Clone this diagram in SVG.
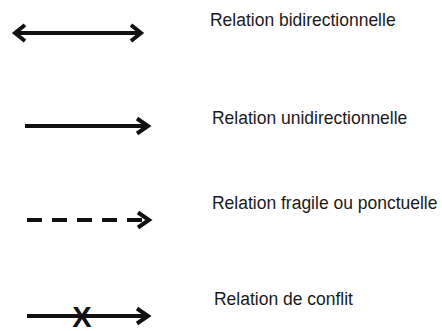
<svg xmlns="http://www.w3.org/2000/svg" width="442" height="331" viewBox="0 0 442 331">
<style>
.ln{stroke:#111;stroke-width:3.8;fill:none;stroke-linecap:butt}
.hd{stroke:#111;stroke-width:4;fill:none;stroke-linejoin:miter;stroke-linecap:butt}
.lbl{font-family:"Liberation Sans",Arial,sans-serif;font-size:17.5px;fill:#1a1a1a}
.x{font-family:"Liberation Sans",Arial,sans-serif;font-size:29px;font-weight:bold;fill:#111}
</style>
<rect width="442" height="331" fill="#fff"/>
<g id="connectors">
<g id="bidirectional">
<line class="ln" x1="15" y1="33" x2="141" y2="33"/>
<polyline class="hd" points="25,25 15,33 25,41"/>
<polyline class="hd" points="131,25 141,33 131,41"/>
</g>
<g id="unidirectional">
<line class="ln" x1="25" y1="126" x2="148" y2="126"/>
<polyline class="hd" points="137,118.5 148,126 137,133.5"/>
</g>
<g id="fragile">
<line class="ln" x1="27" y1="220" x2="148" y2="220" stroke-dasharray="15,10"/>
<polyline class="hd" points="138,212.5 149,220 138,227.5"/>
</g>
<g id="conflict">
<line class="ln" x1="27" y1="316" x2="148" y2="316"/>
<polyline class="hd" points="137,308.5 148,316 137,323.5"/>
<text class="x" x="82" y="326.5" text-anchor="middle">X</text>
</g>
</g>
<g id="label-bidirectionnelle" transform="translate(210,25.5) scale(1,1.1)"><text class="lbl" x="0" y="0">Relation bidirectionnelle</text></g>
<g id="label-unidirectionnelle" transform="translate(212,124) scale(1,1.1)"><text class="lbl" x="0" y="0">Relation unidirectionnelle</text></g>
<g id="label-fragile" transform="translate(212,208.5) scale(1,1.1)"><text class="lbl" x="0" y="0">Relation fragile ou ponctuelle</text></g>
<g id="label-conflit" transform="translate(214,305) scale(1,1.1)"><text class="lbl" x="0" y="0">Relation de conflit</text></g>
</svg>
